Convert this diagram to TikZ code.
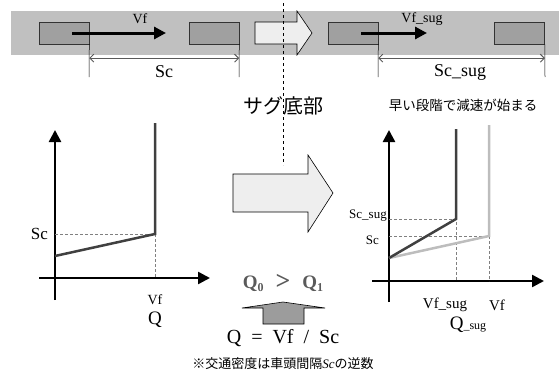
\documentclass[tikz,border=0pt]{standalone}
\usepackage{fontspec}
\setmainfont{Liberation Serif}
\newfontfamily\jpfont{Noto Sans CJK JP}
\usetikzlibrary{arrows.meta, positioning, calc}
\definecolor{roadgray}{HTML}{C0C0C0}
\definecolor{cargray}{HTML}{A0A0A0}
\definecolor{arrowfill}{HTML}{EEEEEE}
\definecolor{curvedark}{HTML}{404040}
\definecolor{curvelight}{HTML}{BDBDBD}
\definecolor{qgray}{HTML}{5A5A5A}
\definecolor{pushgray}{HTML}{9C9C9C}
\newcommand{\sizeto}[1]{\fontsize{#1}{#1}\selectfont}
\tikzset{
  carbox/.style={draw=black!80, fill=cargray, minimum width=50pt, minimum height=22pt, inner sep=0pt, line width=0.6pt},
  drive/.style={-{Triangle[length=12pt,width=12pt]}, line width=3pt},
  dimline/.style={{Straight Barb[length=4pt,width=8pt]}-{Straight Barb[length=4pt,width=8pt]}, draw=black!65, line width=0.9pt},
  extline/.style={draw=black, line width=0.5pt},
  axis/.style={-{Triangle[length=12pt,width=12pt]}, line width=2.5pt},
  curve/.style={line width=2.5pt, draw=curvedark},
  curvepale/.style={line width=2.5pt, draw=curvelight},
  guide/.style={draw=black!50, dash pattern=on 3pt off 2pt, line width=0.6pt},
  hollow/.style={draw=black, fill=arrowfill, line width=0.6pt},
  lbl/.style={inner sep=1pt}
}
\begin{document}
\begin{tikzpicture}[x=1pt, y=-1pt]
\useasboundingbox (0,0) rectangle (559,372);
% road and vehicles
\fill[roadgray] (11,11) rectangle (559,55);
\node[carbox] (car1) at (64,33) {};
\node[carbox] (car2) at (214,33) {};
\node[carbox] (car3) at (353,33) {};
\node[carbox] (car4) at (519.5,33) {};
\coordinate (v1end) at (166,33);
\coordinate (v2end) at (427,33);
\draw[drive] ([xshift=8pt]car1.center) -- (v1end);
\draw[drive] ([xshift=8pt]car3.center) -- (v2end);
\node[lbl, font=\sizeto{14}] (vf) at (140,19) {Vf};
\node[lbl, font=\sizeto{14}] (vfsug) at (422,19) {Vf\_sug};
\draw[hollow] (255,22) -- (297,22) -- (297,11) -- (312,33) -- (297,55) -- (297,44) -- (255,44) -- cycle;
% spacing
\coordinate (e1) at (89,77); \coordinate (e2) at (239,77);
\coordinate (e3) at (378,77); \coordinate (e4) at (545,77);
\draw[extline] (car1.south east) -- (e1);
\draw[extline] (car2.south east) -- (e2);
\draw[extline] (car3.south east) -- (e3);
\draw[extline] (car4.south east) -- (e4);
\draw[dimline] ($(car1.south east)!0.5!(e1)-(0,2.5)$) -- ($(car2.south east)!0.5!(e2)-(0,2.5)$);
\draw[dimline] ($(car3.south east)!0.5!(e3)-(0,2.5)$) -- ($(car4.south east)!0.5!(e4)-(0,2.5)$);
\node[lbl, font=\sizeto{18}] (sc) at (164,72) {Sc};
\node[lbl, font=\sizeto{18}] (scsug) at (460,72) {Sc\_sug};
% sag
\draw[dashed, line width=0.8pt] (283,3) -- (283,165);
\node[lbl, font=\jpfont\sizeto{20}] (sag) at (283,106) {サグ底部};
\draw[hollow] (233,174) -- (308,174) -- (308,155) -- (333,193) -- (308,232) -- (308,212) -- (233,212) -- cycle;
% left chart
\coordinate (oL) at (55,278);
\draw[axis] (55,300) -- (55,130);
\draw[axis] (39,278) -- (210,278);
\draw[guide] (55,234) -- (155,234) -- (155,278);
\draw[curve] (55,256) -- (155,234) -- (155,123);
\node[lbl, font=\sizeto{17}, anchor=east] (scL) at (49,234) {Sc};
\node[lbl, font=\sizeto{14}] (vfL) at (155,300) {Vf};
\node[lbl, font=\sizeto{19}] (qL) at (155,320) {Q};
% right chart
\draw[axis] (389,302) -- (389,130);
\draw[axis] (372,281) -- (544,281);
\draw[guide] (389,219) -- (456,219) -- (456,281);
\draw[guide] (389,236) -- (489,236) -- (489,281);
\draw[curvepale] (389,258) -- (489,236) -- (489,125);
\draw[curve] (389,258) -- (456,219) -- (456,129);
\node[lbl, font=\sizeto{13}, anchor=east] (scsugR) at (388,216) {Sc\_sug};
\node[lbl, font=\sizeto{13}, anchor=east] (scR) at (380,240) {Sc};
\node[lbl, font=\jpfont\sizeto{13.5}] (early) at (463,105) {早い段階で減速が始まる};
\node[lbl, font=\sizeto{15}] (vfsugR) at (445,305) {Vf\_sug};
\node[lbl, font=\sizeto{15}] (vfR) at (497,305) {Vf};
\node[lbl, font=\sizeto{19}] (qR) at (468,325) {Q{\sizeto{12}\_sug}};
% capacity
\node[lbl, font=\bfseries\sizeto{19}, text=qgray] (cmp) at (283,283)
  {Q\raisebox{-3pt}{\sizeto{12}0}\hspace{12pt}{\sizeto{26}\raisebox{-1pt}{>}}\hspace{12pt}Q\raisebox{-3pt}{\sizeto{12}1}};
\draw[draw=black, fill=pushgray, line width=0.6pt] (263,324) -- (263,308) -- (242,308) -- (283,302) -- (325,308) -- (304,308) -- (304,324) -- cycle;
\node[lbl, font=\sizeto{20}] (qdef) at (283,338) {Q\ \ =\ \ Vf\ \ /\ \ Sc};
\node[lbl, font=\sizeto{13}] (note) at (283,364) {{\jpfont ※交通密度は車頭間隔}{\itshape Sc}{\jpfont の逆数}};
\end{tikzpicture}
\end{document}
